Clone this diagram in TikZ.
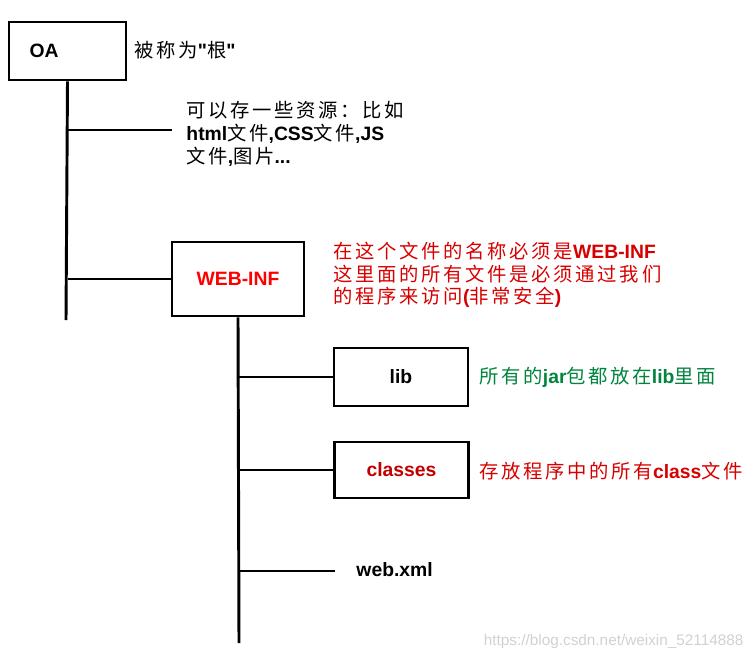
\documentclass[tikz,border=0pt]{standalone}
\usepackage{fontspec}
\setmainfont{Liberation Sans}
\newfontfamily\cjk[LetterSpace=14]{Noto Sans CJK SC}
\usetikzlibrary{positioning}
\newcommand*{\zh}[1]{{\cjk\mdseries #1}}
\definecolor{notered}{RGB}{215,0,0}
\definecolor{darkred}{RGB}{192,0,0}
\definecolor{notegreen}{RGB}{0,132,62}

\begin{document}
\begin{tikzpicture}[x=0.75pt,y=-0.75pt,line width=2.2pt,
      folder/.style={draw,line width=2.2pt,inner sep=0pt,font=\bfseries\fontsize{14.5}{17}\selectfont},
      note/.style={anchor=west,inner sep=0pt,align=left,font=\bfseries\fontsize{14.5}{17}\selectfont}]
      \useasboundingbox (0,0) rectangle (754,662);
      % folders
      \node[folder,minimum width=87.75pt,minimum height=43.5pt,text width=57pt,align=left] (oa) at (67.5,51) {OA};
      \node[folder,minimum width=99pt,minimum height=55.5pt,text=red] (webinf) at (238,279) {WEB-INF};
      \node[folder,minimum width=100.5pt,minimum height=43.5pt] (lib) at (401,377) {lib};
      \node[folder,minimum width=100pt,minimum height=42pt,text=darkred] (classes) at (401.5,470) {classes};
      \node[note] (webxml) at (355,570) {web.xml};
      % trunk ends and free branch ends
      \coordinate (oaend) at (66,320);
      \coordinate (res) at (172,130);
      \coordinate (webend) at (239,643);
      \coordinate (xml) at (335,571);
      % notes
      \node[note] (root) at (133,50) {\zh{被称为}\textquotedbl\zh{根}\textquotedbl};
      \node[note] (resnote) at (185,134) {\zh{可以存一些资源：比如}\\html\zh{文件},CSS\zh{文件},JS\\\zh{文件},\zh{图片}...};
      \node[note,text=notered] (webnote) at (332,275) {\zh{在这个文件的名称必须是}WEB-INF\\\zh{这里面的所有文件是必须通过我们}\\\zh{的程序来访问}(\zh{非常安全})};
      \node[note,text=notegreen] (libnote) at (478,377) {\zh{所有的}jar\zh{包都放在}lib\zh{里面}};
      \node[note,text=notered] (classnote) at (478,471) {\zh{存放程序中的所有}class\zh{文件}};
      \node[anchor=east,inner sep=0pt,text=black!18,font=\fontsize{11.5}{13}\selectfont] (mark) at (745,642) {https://blog.csdn.net/weixin\_52114888};
      % connectors
      \draw (oa.south) -- (oaend);
      \draw (oa.south |- res) -- (res);
      \draw (oa.south |- webinf.west) -- (webinf.west);
      \draw (webinf.south) -- (webend);
      \draw (webinf.south |- lib.west) -- (lib.west);
      \draw (webinf.south |- classes.west) -- (classes.west);
      \draw (webinf.south |- xml) -- (xml);
\end{tikzpicture}
\end{document}
